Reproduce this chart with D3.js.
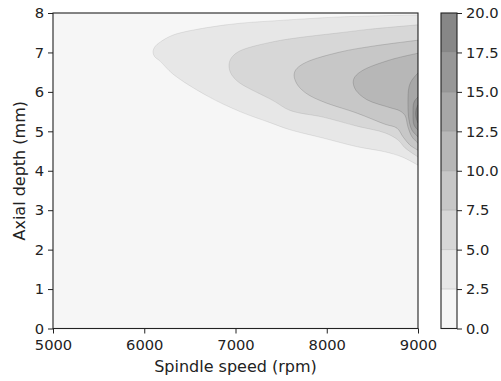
<!DOCTYPE html>
<html>
<head>
<meta charset="utf-8">
<script src="https://cdn.jsdelivr.net/npm/d3@7"></script>
<style>
  html, body { margin: 0; padding: 0; background: #fff; }
  svg { display: block; font-family: "DejaVu Sans", sans-serif; }
</style>
</head>
<body>
<svg id="chart" width="501" height="381"></svg>
<script>
// ---------- data ----------
const xTicks = [5000, 6000, 7000, 8000, 9000];
const yTicks = [0, 1, 2, 3, 4, 5, 6, 7, 8];
const levels = [0, 2.5, 5, 7.5, 10, 12.5, 15, 17.5, 20];
const bandColors = ["#f6f6f6", "#e7e7e7", "#d7d7d7", "#c7c7c7", "#b7b7b7", "#a7a7a7", "#979797", "#878787"];

// contour boundaries: [spindle speed (rpm), axial depth (mm)]
const contour_2_5 = [[9000,7.95],[8145,7.90],[7411,7.80],[7049,7.74],[6688,7.63],[6315,7.44],[6173,7.26],[6118,7.15],[6096,7.02],[6112,6.90],[6173,6.78],[6315,6.45],[6688,5.90],[7049,5.50],[7378,5.22],[7597,5.04],[7959,4.83],[8332,4.61],[8638,4.48],[8825,4.35],[9000,4.14]];
const contour_5_0 = [[9000,7.70],[8474,7.59],[8112,7.49],[7740,7.39],[7411,7.27],[7049,7.04],[6960,6.88],[6934,6.76],[6929,6.64],[6942,6.50],[6975,6.38],[7049,6.22],[7411,5.78],[7597,5.53],[7959,5.36],[8332,5.13],[8638,4.96],[8781,4.78],[8858,4.58],[9000,4.35]];
const contour_7_5 = [[9000,7.31],[8507,7.16],[8145,7.01],[7783,6.76],[7675,6.60],[7645,6.48],[7645,6.36],[7685,6.16],[7783,5.95],[7959,5.75],[8332,5.46],[8638,5.18],[8770,5.08],[8836,4.86],[8912,4.65],[9000,4.52]];
const contour_10_0 = [[9000,6.98],[8693,6.81],[8397,6.55],[8308,6.38],[8290,6.24],[8320,6.04],[8441,5.80],[8693,5.60],[8800,5.52],[8858,5.40],[8890,5.11],[8934,4.86],[9000,4.70]];
const contour_12_5 = [[9000,6.48],[8934,6.30],[8901,6.12],[8890,5.72],[8901,5.29],[8934,5.03],[9000,4.86]];
const contour_15_0 = [[9000,5.87],[8956,5.74],[8945,5.46],[8956,5.16],[9000,5.03]];
const contour_17_5 = [[9000,5.67],[8978,5.54],[8978,5.36],[9000,5.21]];
const contours = [contour_2_5, contour_5_0, contour_7_5, contour_10_0, contour_12_5, contour_15_0, contour_17_5];

// ---------- layout ----------
const plot = { left: 53, right: 418, top: 13, bottom: 328.5 };
const cbar = { left: 441, right: 457 };
const tickFont = "14.7px";
const labelFont = "16px";

const svg = d3.select("#chart");
const x = d3.scaleLinear().domain([5000, 9000]).range([plot.left, plot.right]);
const y = d3.scaleLinear().domain([0, 8]).range([plot.bottom, plot.top]);
const c = d3.scaleLinear().domain([0, 20]).range([plot.bottom, plot.top]);

svg.append("defs").append("clipPath").attr("id", "clip")
  .append("rect")
  .attr("x", plot.left).attr("y", plot.top)
  .attr("width", plot.right - plot.left).attr("height", plot.bottom - plot.top);

const g = svg.append("g").attr("clip-path", "url(#clip)");
g.append("rect")
  .attr("x", plot.left).attr("y", plot.top)
  .attr("width", plot.right - plot.left).attr("height", plot.bottom - plot.top)
  .attr("fill", bandColors[0]);

const line = d3.line().x(d => x(d[0])).y(d => y(d[1])).curve(d3.curveCatmullRom.alpha(0.5));
contours.forEach((pts, i) => {
  g.append("path")
    .attr("d", line(pts) + "Z")
    .attr("fill", bandColors[i + 1])
    .attr("stroke", i < 2 ? "rgba(0,0,0,0.10)" : "rgba(0,0,0,0.18)")
    .attr("stroke-width", 0.8);
});

// ---------- axes ----------
const xAxis = svg.append("g")
  .attr("transform", `translate(0,${plot.bottom})`)
  .call(d3.axisBottom(x).tickValues(xTicks).tickFormat(d3.format("d")).tickSize(5).tickPadding(6).tickSizeOuter(0));
const yAxis = svg.append("g")
  .attr("transform", `translate(${plot.left},0)`)
  .call(d3.axisLeft(y).tickValues(yTicks).tickFormat(d3.format("d")).tickSize(5).tickPadding(4).tickSizeOuter(0));
[xAxis, yAxis].forEach(a => {
  a.select(".domain").remove();
  a.selectAll("text").attr("font-size", tickFont).attr("font-family", "DejaVu Sans").attr("fill", "#222");
  a.selectAll("line").attr("stroke", "#222").attr("stroke-width", 1);
});

svg.append("rect")
  .attr("x", plot.left).attr("y", plot.top)
  .attr("width", plot.right - plot.left).attr("height", plot.bottom - plot.top)
  .attr("fill", "none").attr("stroke", "#222").attr("stroke-width", 1.1);

svg.append("text")
  .attr("x", (plot.left + plot.right) / 2).attr("y", 372)
  .attr("text-anchor", "middle").attr("font-size", labelFont).attr("fill", "#222")
  .text("Spindle speed (rpm)");
svg.append("text")
  .attr("transform", `translate(25,${(plot.top + plot.bottom) / 2}) rotate(-90)`)
  .attr("text-anchor", "middle").attr("font-size", labelFont).attr("fill", "#222")
  .text("Axial depth (mm)");

// ---------- colorbar ----------
const cb = svg.append("g");
d3.range(bandColors.length).forEach(i => {
  cb.append("rect")
    .attr("x", cbar.left).attr("width", cbar.right - cbar.left)
    .attr("y", c(levels[i + 1])).attr("height", c(levels[i]) - c(levels[i + 1]))
    .attr("fill", bandColors[i]);
});
levels.slice(1, -1).forEach(v => {
  cb.append("line")
    .attr("x1", cbar.left).attr("x2", cbar.right)
    .attr("y1", c(v)).attr("y2", c(v))
    .attr("stroke", "rgba(0,0,0,0.12)").attr("stroke-width", 1);
});
cb.append("rect")
  .attr("x", cbar.left).attr("y", plot.top)
  .attr("width", cbar.right - cbar.left).attr("height", plot.bottom - plot.top)
  .attr("fill", "none").attr("stroke", "#222").attr("stroke-width", 1.1);
const cAxis = svg.append("g")
  .attr("transform", `translate(${cbar.right},0)`)
  .call(d3.axisRight(c).tickValues(levels).tickFormat(d3.format(".1f")).tickSize(5).tickPadding(4).tickSizeOuter(0));
cAxis.select(".domain").remove();
cAxis.selectAll("text").attr("font-size", tickFont).attr("font-family", "DejaVu Sans").attr("fill", "#222");
cAxis.selectAll("line").attr("stroke", "#222").attr("stroke-width", 1);
</script>
</body>
</html>
